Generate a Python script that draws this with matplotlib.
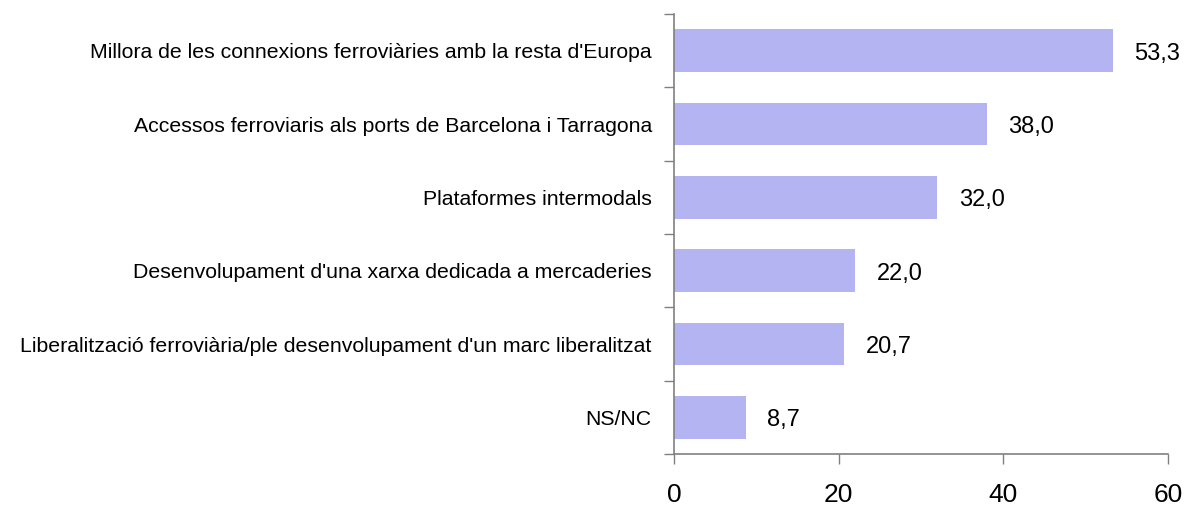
import matplotlib
matplotlib.use("Agg")
import matplotlib.pyplot as plt

categories = [
    "Millora de les connexions ferroviàries amb la resta d'Europa",
    "Accessos ferroviaris als ports de Barcelona i Tarragona",
    "Plataformes intermodals",
    "Desenvolupament d'una xarxa dedicada a mercaderies",
    "Liberalització ferroviària/ple desenvolupament d'un marc liberalitzat",
    "NS/NC",
]
values = [53.3, 38.0, 32.0, 22.0, 20.7, 8.7]
xticks = [0, 20, 40, 60]

fig = plt.figure(figsize=(11.92, 5.05), dpi=100)
ax = fig.add_axes([674/1192, 1-454/505, (1168-674)/1192, (454-14)/505])

n = len(categories)
ypos = list(range(n))
ax.barh(ypos, values, height=0.58, color="#B4B4F2", edgecolor="none")
ax.set_ylim(n - 0.5, -0.5)
ax.set_xlim(0, 60)

for y, v in zip(ypos, values):
    ax.text(v + 2.6, y + 0.04, f"{v:.1f}".replace(".", ","), va="center", ha="left",
            fontsize=17, family="Liberation Sans", color="black")

ax.set_xticks(xticks)
ax.set_xticklabels([str(t) for t in xticks], fontsize=19, family="Liberation Sans")
ax.tick_params(axis="x", length=7, width=1, color="#808080", pad=14)

ax.set_yticks([i - 0.5 for i in range(n + 1)])
ax.set_yticklabels([])
ax.set_yticks(ypos, minor=True)
ax.set_yticklabels(categories, minor=True, fontsize=15.3, family="Liberation Sans")
ax.tick_params(axis="y", which="major", length=7, width=1, color="#808080")
ax.tick_params(axis="y", which="minor", length=0, pad=16)

for s in ["top", "right"]:
    ax.spines[s].set_visible(False)
for s in ["left", "bottom"]:
    ax.spines[s].set_color("#808080")
    ax.spines[s].set_linewidth(1.2)

fig.savefig("out.png", dpi=100)
